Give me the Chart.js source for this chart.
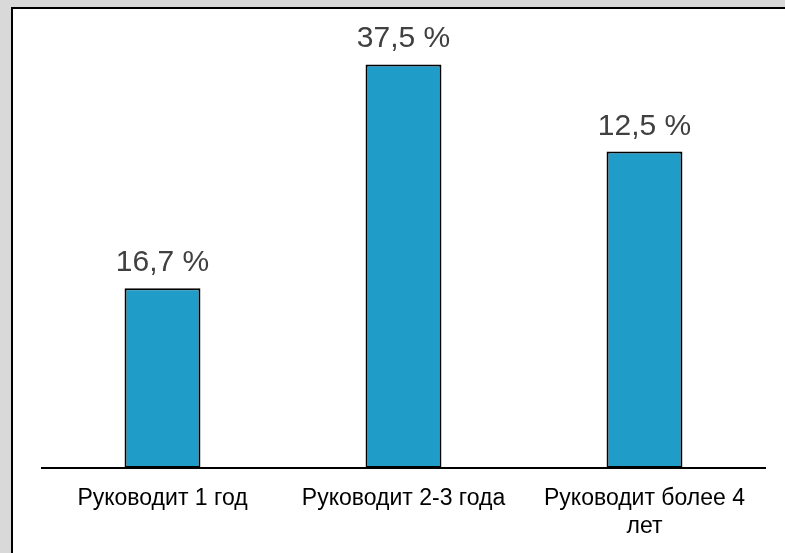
<!DOCTYPE html>
<html>
<head>
<meta charset="utf-8">
<script src="https://cdn.jsdelivr.net/npm/chart.js@4/dist/chart.umd.min.js"></script>
<style>
  html, body { margin: 0; padding: 0; background: #d9d9d9; overflow: hidden; }
  #panel { position: absolute; left: 11px; top: 7px; width: 820px; height: 600px; background: #fff; border: 2px solid #000; }
  #wrap { position: absolute; left: 0; top: 0; width: 785px; height: 553px; }
</style>
</head>
<body>
<div id="panel"></div>
<div id="wrap"><canvas id="canvas" width="785" height="553"></canvas></div>
<script>
    var categories = ["Руководит 1 год", "Руководит 2-3 года", ["Руководит более 4", "лет"]];
    var barValues = [16.7, 37.5, 29.4];
    var valueLabels = ["16,7 %", "37,5 %", "12,5 %"];

    var barLabelsPlugin = {
        id: 'barLabels',
        afterDatasetsDraw: function(chart) {
            var ctx = chart.ctx;
            var meta = chart.getDatasetMeta(0);
            ctx.save();
            ctx.font = '30px "Liberation Sans", Arial, sans-serif';
            ctx.fillStyle = '#404040';
            ctx.textAlign = 'center';
            ctx.textBaseline = 'alphabetic';
            meta.data.forEach(function(bar, i) {
                ctx.fillText(valueLabels[i], bar.x, bar.y - 17);
            });
            ctx.restore();
        }
    };

    window.onload = function() {
        var ctx = document.getElementById("canvas").getContext("2d");
        new Chart(ctx, {
            type: 'bar',
            data: {
                labels: categories,
                datasets: [{
                    data: barValues,
                    backgroundColor: '#1f9cc7',
                    borderColor: '#000',
                    borderWidth: 2,
                    borderSkipped: false,
                    categoryPercentage: 1,
                    barPercentage: 0.315
                }]
            },
            options: {
                responsive: false,
                animation: false,
                layout: { padding: { left: 42, right: 20, top: 16, bottom: 0 } },
                plugins: { legend: { display: false }, tooltip: { enabled: false } },
                scales: {
                    x: {
                        grid: { display: false },
                        border: { display: true, color: '#000', width: 2 },
                        ticks: {
                            color: '#000',
                            font: { family: '"Liberation Sans", Arial, sans-serif', size: 23, lineHeight: 1.2 },
                            padding: 9,
                            maxRotation: 0,
                            autoSkip: false
                        },
                        afterFit: function(scale) { scale.height = 85; }
                    },
                    y: {
                        display: false,
                        min: 0,
                        max: 42
                    }
                }
            },
            plugins: [barLabelsPlugin]
        });
    };
</script>
</body>
</html>
